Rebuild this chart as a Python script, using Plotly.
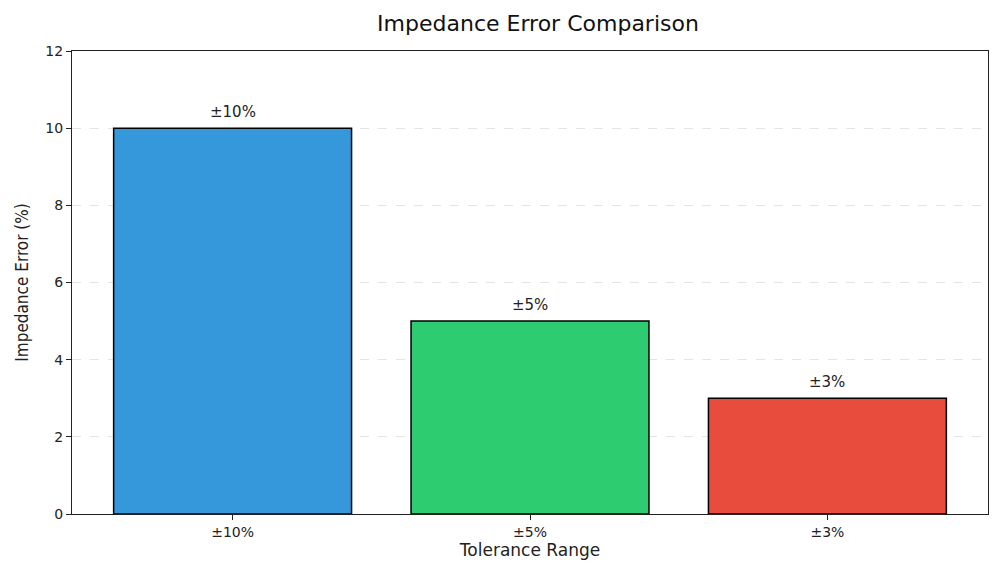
import plotly.graph_objects as go

categories = ["±10%", "±5%", "±3%"]
values = [10, 5, 3]
bar_labels = ["±10%", "±5%", "±3%"]
colors = ["#3498db", "#2ecc71", "#e74c3c"]
y_ticks = [0, 2, 4, 6, 8, 10, 12]

fig = go.Figure()
fig.add_trace(go.Bar(
    x=list(range(len(categories))), y=values,
    width=0.8,
    marker=dict(color=colors, line=dict(color="black", width=1.5)),
))

for i, (v, lab) in enumerate(zip(values, bar_labels)):
    fig.add_annotation(x=i, y=v, text=lab, showarrow=False, yanchor="bottom",
                       yshift=5, font=dict(size=15, color="#222"))

axis_common = dict(showline=True, linecolor="#222", linewidth=1.2, mirror=True,
                   ticks="outside", ticklen=5, tickcolor="#222",
                   tickfont=dict(size=14, color="#222"), automargin=False)

fig.update_layout(
    width=1000, height=563,
    margin=dict(l=64, r=20, t=43, b=57, autoexpand=False),
    paper_bgcolor="white", plot_bgcolor="white",
    font=dict(family="DejaVu Sans", color="#222"),
    title=dict(text="Impedance Error Comparison", x=0.53, xanchor="center",
               y=0.972, yanchor="middle", font=dict(size=22, color="#111")),
    showlegend=False,
    xaxis=dict(range=[-0.54, 2.54], tickvals=list(range(len(categories))),
               ticktext=categories, showgrid=False,
               title=dict(text="Tolerance Range", font=dict(size=17), standoff=0),
               **axis_common),
    yaxis=dict(range=[0, 12], tickvals=y_ticks, showgrid=True,
               gridcolor="rgba(210,210,210,0.6)", griddash="dash", gridwidth=1,
               zeroline=False,
               title=dict(text="Impedance Error (%)", font=dict(size=17, family="DejaVu Sans Condensed, DejaVu Sans, sans-serif"), standoff=12),
               **axis_common),
)

fig.write_html("out.html")
